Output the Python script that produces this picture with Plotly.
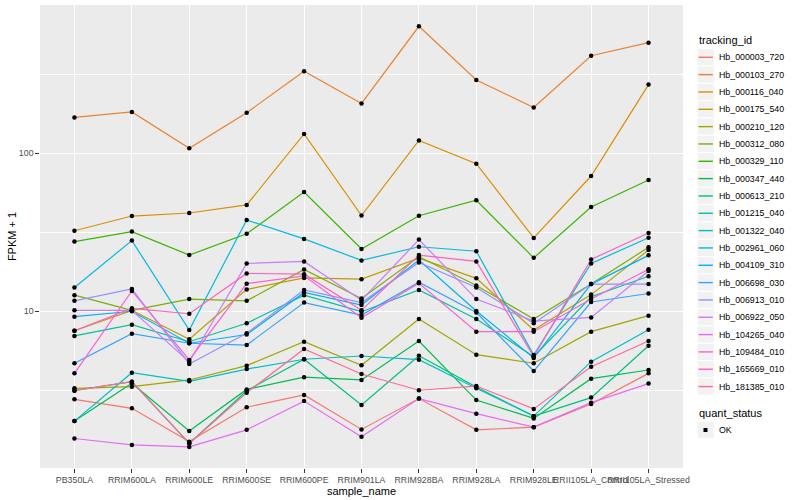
import plotly.graph_objects as go

samples = ["PB350LA", "RRIM600LA", "RRIM600LE", "RRIM600SE", "RRIM600PE", "RRIM901LA",
           "RRIM928BA", "RRIM928LA", "RRIM928LE", "RRII105LA_Control", "RRII105LA_Stressed"]

tracking_ids = ["Hb_000003_720", "Hb_000103_270", "Hb_000116_040", "Hb_000175_540", "Hb_000210_120",
                "Hb_000312_080", "Hb_000329_110", "Hb_000347_440", "Hb_000613_210", "Hb_001215_040",
                "Hb_001322_040", "Hb_002961_060", "Hb_004109_310", "Hb_006698_030", "Hb_006913_010",
                "Hb_006922_050", "Hb_104265_040", "Hb_109484_010", "Hb_165669_010", "Hb_181385_010"]

colors = ["#F8766D", "#EA8331", "#D89000", "#C09B00", "#A3A500", "#7CAE00", "#39B600", "#00BB4E",
          "#00BF7D", "#00C1A3", "#00BFC4", "#00BAE0", "#00B0F6", "#35A2FF", "#9590FF", "#C77CFF",
          "#E76BF3", "#FA62DB", "#FF62BC", "#FF6C91"]

# FPKM + 1 per sample, in the order of `samples`
hb_000003_720 = [2.76, 2.42, 1.49, 2.46, 2.94, 1.78, 2.79, 1.77, 1.84, 2.58, 4.03]
hb_000103_270 = [168, 182, 107, 180, 329, 206, 634, 290, 194, 413, 499]
hb_000116_040 = [32.2, 39.9, 41.7, 46.9, 132, 40.2, 120, 85.6, 29.0, 71.5, 271]
hb_000175_540 = [7.50, 10.1, 6.62, 13.7, 16.2, 15.9, 21.6, 16.1, 7.58, 12.7, 24.3]
hb_000210_120 = [3.24, 3.32, 3.66, 4.51, 6.39, 4.53, 8.90, 5.29, 4.67, 7.40, 9.34]
hb_000312_080 = [12.6, 10.1, 11.9, 11.6, 18.3, 12.0, 22.1, 14.5, 8.90, 14.8, 25.3]
hb_000329_110 = [27.5, 31.8, 22.6, 30.8, 56.6, 24.7, 40.1, 50.2, 21.7, 45.5, 67.5]
hb_000347_440 = [2.01, 3.49, 1.74, 3.19, 3.81, 3.66, 6.46, 2.73, 2.09, 3.73, 4.23]
hb_000613_210 = [3.14, 3.57, 1.45, 3.13, 4.95, 2.54, 5.21, 3.30, 2.16, 2.83, 6.03]
hb_001215_040 = [6.95, 8.19, 6.39, 8.36, 12.6, 9.90, 13.6, 8.90, 5.14, 12.3, 16.6]
hb_001322_040 = [2.01, 4.07, 3.59, 4.29, 4.95, 5.19, 4.92, 3.24, 2.16, 4.78, 7.61]
hb_002961_060 = [14.1, 27.9, 7.58, 37.7, 28.6, 20.9, 25.5, 23.9, 5.27, 20.0, 29.1]
hb_004109_310 = [9.20, 9.96, 6.25, 7.10, 13.1, 10.9, 21.0, 10.0, 5.04, 14.8, 22.5]
hb_006698_030 = [4.67, 7.18, 6.25, 6.09, 11.3, 9.43, 15.2, 9.78, 4.17, 11.4, 12.9]
hb_006913_010 = [11.6, 13.8, 4.62, 7.23, 13.6, 11.3, 20.3, 14.1, 8.36, 14.8, 14.8]
hb_006922_050 = [10.1, 10.1, 4.76, 20.0, 20.6, 11.7, 28.3, 11.9, 8.64, 9.10, 17.9]
hb_104265_040 = [1.56, 1.42, 1.38, 1.77, 2.69, 1.60, 2.79, 2.24, 1.84, 2.63, 3.47]
hb_109484_010 = [4.03, 13.4, 4.90, 14.9, 16.7, 9.07, 15.0, 7.40, 7.40, 11.9, 18.4]
hb_165669_010 = [7.50, 10.4, 9.61, 17.3, 17.1, 10.1, 22.6, 20.6, 5.14, 21.2, 31.2]
hb_181385_010 = [3.13, 3.57, 1.45, 3.04, 5.75, 3.99, 3.15, 3.35, 2.40, 4.44, 6.46]

series = [hb_000003_720, hb_000103_270, hb_000116_040, hb_000175_540, hb_000210_120,
          hb_000312_080, hb_000329_110, hb_000347_440, hb_000613_210, hb_001215_040,
          hb_001322_040, hb_002961_060, hb_004109_310, hb_006698_030, hb_006913_010,
          hb_006922_050, hb_104265_040, hb_109484_010, hb_165669_010, hb_181385_010]

y_ticks = [10, 100]
y_minor = [3.1623, 31.623, 316.23]

W, H = 800, 500
L, R, T, B = 40, 683, 5, 468
FONT = "Liberation Sans, Arial, sans-serif"


def px_x(px):
    return (px - L) / (R - L)


def px_y(py):
    return (B - py) / (B - T)


fig = go.Figure()
for tid, vals, col in zip(tracking_ids, series, colors):
    fig.add_trace(go.Scatter(x=samples, y=vals, mode="lines", name=tid,
                             line=dict(color=col, width=1.2), showlegend=False,
                             hoverinfo="skip"))
for tid, vals in zip(tracking_ids, series):
    fig.add_trace(go.Scatter(x=samples, y=vals, mode="markers", name=tid,
                             marker=dict(color="black", size=4.5), showlegend=False))

shapes = []
annotations = []

# manual ggplot-style legend
annotations.append(dict(x=px_x(697), y=px_y(40.5), xref="paper", yref="paper", text="tracking_id",
                        showarrow=False, xanchor="left", yanchor="middle",
                        font=dict(size=11, color="black", family=FONT)))
key = 17.33
for i, (tid, col) in enumerate(zip(tracking_ids, colors)):
    cy = 57.3 + key * i
    shapes.append(dict(type="rect", xref="paper", yref="paper",
                       x0=px_x(697), x1=px_x(697 + key), y0=px_y(cy - key / 2), y1=px_y(cy + key / 2),
                       fillcolor="#F2F2F2", line=dict(color="white", width=1), layer="above"))
    shapes.append(dict(type="line", xref="paper", yref="paper",
                       x0=px_x(698.5), x1=px_x(697 + key - 1.5), y0=px_y(cy), y1=px_y(cy),
                       line=dict(color=col, width=1.4), layer="above"))
    annotations.append(dict(x=px_x(717), y=px_y(cy), xref="paper", yref="paper", text=tid,
                            showarrow=False, xanchor="left", yanchor="middle",
                            font=dict(size=8.8, color="black", family=FONT)))

annotations.append(dict(x=px_x(697), y=px_y(413), xref="paper", yref="paper", text="quant_status",
                        showarrow=False, xanchor="left", yanchor="middle",
                        font=dict(size=11, color="black", family=FONT)))
cy = 430
shapes.append(dict(type="rect", xref="paper", yref="paper",
                   x0=px_x(697), x1=px_x(697 + key), y0=px_y(cy - key / 2), y1=px_y(cy + key / 2),
                   fillcolor="#F2F2F2", line=dict(color="white", width=1), layer="above"))
shapes.append(dict(type="rect", xref="paper", yref="paper",
                   x0=px_x(703.5), x1=px_x(707.5), y0=px_y(cy - 2), y1=px_y(cy + 2),
                   fillcolor="black", line=dict(color="black", width=0), layer="above"))
annotations.append(dict(x=px_x(717), y=px_y(cy), xref="paper", yref="paper", text="OK",
                        showarrow=False, xanchor="left", yanchor="middle",
                        font=dict(size=8.8, color="black", family=FONT)))

fig.update_layout(
    width=W, height=H,
    margin=dict(l=L, r=W - R, t=T, b=H - B, pad=0),
    paper_bgcolor="white", plot_bgcolor="#EBEBEB",
    font=dict(family=FONT, color="black"),
    showlegend=False,
    shapes=shapes, annotations=annotations,
    xaxis=dict(type="category", categoryorder="array", categoryarray=samples,
               range=[-0.6, len(samples) - 0.4], tickangle=0,
               showgrid=True, gridcolor="white", gridwidth=1.4, zeroline=False, showline=False,
               ticks="outside", ticklen=3.7, tickwidth=1, tickcolor="#333333",
               tickfont=dict(size=8.8, color="#4D4D4D"),
               title=dict(text="sample_name", font=dict(size=11, color="black"), standoff=3),
               automargin=False),
    yaxis=dict(type="log", range=[0.0063, 2.9367],
               tickmode="array", tickvals=y_ticks, ticktext=[str(v) for v in y_ticks],
               showgrid=True, gridcolor="white", gridwidth=1.4, zeroline=False, showline=False,
               ticks="outside", ticklen=3.7, tickwidth=1, tickcolor="#333333",
               tickfont=dict(size=8.8, color="#4D4D4D"),
               minor=dict(tickmode="array", tickvals=y_minor, showgrid=True,
                          gridcolor="white", gridwidth=0.7, ticks=""),
               title=dict(text="FPKM + 1", font=dict(size=11, color="black"), standoff=0),
               automargin=False),
)

fig.write_html("out.html", config={"displayModeBar": False},
               post_script="document.body.style.margin='0';document.body.style.overflow='hidden';")
